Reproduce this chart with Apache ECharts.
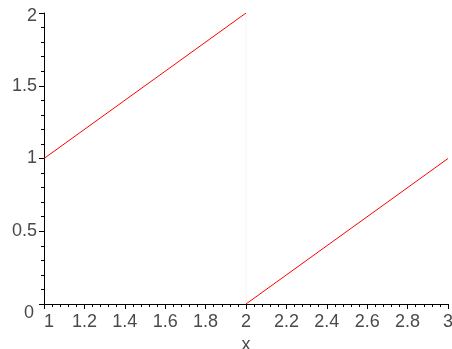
<!DOCTYPE html>
<html>
<head>
<meta charset="utf-8">
<script src="https://cdn.jsdelivr.net/npm/echarts@6/dist/echarts.min.js"></script>
<style>
  html, body { margin: 0; padding: 0; background: #fff; }
  #chart { width: 452px; height: 349px; }
</style>
</head>
<body>
<div id="chart"></div>
<script>
// Piecewise function: two linear pieces with a jump at x = 2
const leftPiece = [[1, 1], [2, 2]];
const rightPiece = [[2, 0], [3, 1]];
// faint vertical join drawn at the discontinuity
const jumpSegment = [[2, 2], [2, 0]];

const xTicks = { min: 1, max: 3, step: 0.2 };
const yTicks = { min: 0, max: 2, step: 0.5 };

const chart = echarts.init(document.getElementById('chart'), null, { renderer: 'canvas' });

const labelFont = {
  color: '#4a4a4a',
  fontFamily: 'Liberation Sans, Arial, sans-serif',
  fontSize: 18
};

chart.setOption({
  animation: false,
  backgroundColor: '#ffffff',
  grid: { left: 44, right: 4, top: 13, bottom: 45, containLabel: false, outerBoundsMode: 'none' },
  xAxis: {
    type: 'value',
    min: xTicks.min,
    max: xTicks.max,
    interval: xTicks.step,
    name: 'x',
    nameLocation: 'middle',
    nameGap: 29,
    nameTextStyle: labelFont,
    axisLine: { show: true, onZero: false, lineStyle: { color: '#000', width: 1 } },
    axisTick: { show: true, inside: false, length: 5, lineStyle: { color: '#000' } },
    minorTick: { show: true, splitNumber: 5, length: 3, lineStyle: { color: '#000' } },
    splitLine: { show: false },
    axisLabel: Object.assign({
      margin: 9,
      formatter: v => {
        const s = String(Math.round(v * 10) / 10);
        return v === 1 ? '{first|' + s + '}' : s;
      },
      rich: {
        first: Object.assign({ padding: [0, 0, 0, 10] }, labelFont)
      },
      showMinLabel: true,
      showMaxLabel: true
    }, labelFont)
  },
  yAxis: {
    type: 'value',
    min: yTicks.min,
    max: yTicks.max,
    interval: yTicks.step,
    axisLine: { show: true, onZero: false, lineStyle: { color: '#000', width: 1 } },
    axisTick: { show: true, inside: false, length: 5, lineStyle: { color: '#000' } },
    minorTick: { show: true, splitNumber: 5, length: 3, lineStyle: { color: '#000' } },
    splitLine: { show: false },
    axisLabel: Object.assign({
      margin: 7,
      formatter: v => {
        if (v === 0) return '{low|0}';
        if (v === 2) return '{top|2}';
        return '{n|' + v + '}';
      },
      rich: {
        low: Object.assign({ padding: [18, 3, 0, 0] }, labelFont),
        top: Object.assign({ padding: [7, 0, 0, 0] }, labelFont),
        n: Object.assign({}, labelFont)
      },
      showMinLabel: true,
      showMaxLabel: true
    }, labelFont)
  },
  series: [
    {
      type: 'line',
      data: jumpSegment,
      symbol: 'none',
      silent: true,
      lineStyle: { color: '#f3f3f3', width: 1 },
      z: 1
    },
    {
      type: 'line',
      data: leftPiece,
      symbol: 'none',
      lineStyle: { color: '#ff0000', width: 1 },
      z: 2
    },
    {
      type: 'line',
      data: rightPiece,
      symbol: 'none',
      lineStyle: { color: '#ff0000', width: 1 },
      z: 2
    }
  ]
});
</script>
</body>
</html>
